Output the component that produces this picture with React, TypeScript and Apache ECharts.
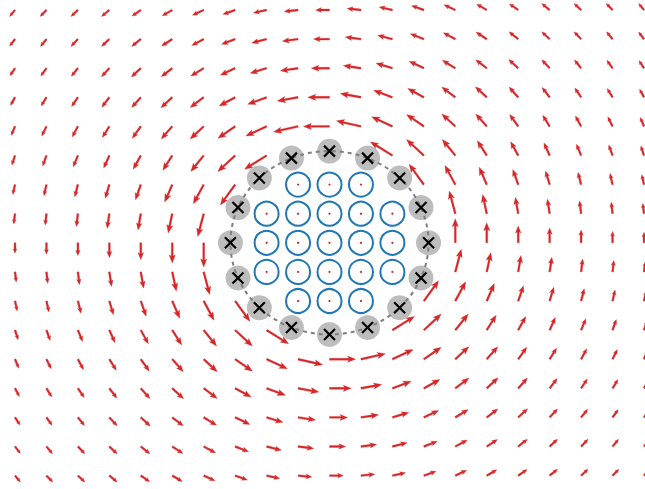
import React, { useEffect, useRef } from "react";
import * as echarts from "echarts";

const _ = null;

// grid of field sample points (data units)
const xs = [-10, -9, -8, -7, -6, -5, -4, -3, -2, -1, 0, 1, 2, 3, 4, 5, 6, 7, 8, 9, 10];
const ys = [8, 7, 6, 5, 4, 3, 2, 1, 0, -1, -2, -3, -4, -5, -6, -7, -8];

// x-components of the field, one row per y (top to bottom), null = not drawn
const U = [
  [-.17, -.2, -.22, -.25, -.28, -.32, -.36, -.39, -.42, -.44, -.44, -.44, -.42, -.39, -.36, -.32, -.28, -.25, -.22, -.2, -.17],
  [-.17, -.19, -.22, -.25, -.29, -.34, -.38, -.43, -.47, -.5, -.51, -.5, -.47, -.43, -.38, -.34, -.29, -.25, -.22, -.19, -.17],
  [-.16, -.18, -.21, -.25, -.3, -.35, -.41, -.47, -.52, -.56, -.58, -.56, -.52, -.47, -.41, -.35, -.3, -.25, -.21, -.18, -.16],
  [-.14, -.17, -.2, -.24, -.29, -.36, -.43, -.51, -.6, -.66, -.69, -.66, -.6, -.51, -.43, -.36, -.29, -.24, -.2, -.17, -.14],
  [-.12, -.15, -.18, -.22, -.27, -.35, -.43, -.55, -.66, -.78, -.83, -.78, -.66, -.55, -.43, -.35, -.27, -.22, -.18, -.15, -.12],
  [-.1, -.12, -.15, -.18, -.24, -.3, -.41, -.55, -.7, _, _, _, -.7, -.55, -.41, -.3, -.24, -.18, -.15, -.12, -.1],
  [-.07, -.08, -.1, -.13, -.17, -.24, -.33, -.47, _, _, _, _, _, -.47, -.33, -.24, -.17, -.13, -.1, -.08, -.07],
  [-.04, -.04, -.05, -.07, -.09, -.13, -.19, _, _, _, _, _, _, _, -.19, -.13, -.09, -.07, -.05, -.04, -.04],
  [0, 0, 0, 0, 0, 0, 0, _, _, _, _, _, _, _, 0, 0, 0, 0, 0, 0, 0],
  [.04, .04, .05, .07, .09, .13, .19, _, _, _, _, _, _, _, .19, .13, .09, .07, .05, .04, .04],
  [.07, .08, .1, .13, .17, .24, .33, .47, _, _, _, _, _, .47, .33, .24, .17, .13, .1, .08, .07],
  [.1, .12, .15, .18, .24, .3, .41, .55, .7, _, _, _, .7, .55, .41, .3, .24, .18, .15, .12, .1],
  [.12, .15, .18, .22, .27, .35, .43, .55, .66, .78, .83, .78, .66, .55, .43, .35, .27, .22, .18, .15, .12],
  [.14, .17, .2, .24, .29, .36, .43, .51, .6, .66, .69, .66, .6, .51, .43, .36, .29, .24, .2, .17, .14],
  [.16, .18, .21, .25, .3, .35, .41, .47, .52, .56, .58, .56, .52, .47, .41, .35, .3, .25, .21, .18, .16],
  [.17, .19, .22, .25, .29, .34, .38, .43, .47, .5, .51, .5, .47, .43, .38, .34, .29, .25, .22, .19, .17],
  [.17, .2, .22, .25, .28, .32, .36, .39, .42, .44, .44, .44, .42, .39, .36, .32, .28, .25, .22, .2, .17],
];

// y-components of the field
const V = [
  [-.22, -.22, -.22, -.22, -.21, -.2, -.18, -.15, -.1, -.05, 0, .05, .1, .15, .18, .2, .21, .22, .22, .22, .22],
  [-.24, -.25, -.25, -.25, -.25, -.24, -.22, -.18, -.13, -.07, 0, .07, .13, .18, .22, .24, .25, .25, .25, .25, .24],
  [-.26, -.27, -.28, -.29, -.3, -.29, -.27, -.24, -.17, -.09, 0, .09, .17, .24, .27, .29, .3, .29, .28, .27, .26],
  [-.28, -.3, -.32, -.34, -.35, -.36, -.35, -.3, -.24, -.13, 0, .13, .24, .3, .35, .36, .35, .34, .32, .3, .28],
  [-.31, -.33, -.36, -.38, -.41, -.43, -.43, -.41, -.33, -.19, 0, .19, .33, .41, .43, .43, .41, .38, .36, .33, .31],
  [-.33, -.36, -.39, -.43, -.47, -.51, -.55, -.55, -.47, _, _, _, .47, .55, .55, .51, .47, .43, .39, .36, .33],
  [-.34, -.38, -.42, -.47, -.52, -.6, -.66, -.7, _, _, _, _, _, .7, .66, .6, .52, .47, .42, .38, .34],
  [-.35, -.39, -.44, -.5, -.56, -.66, -.78, _, _, _, _, _, _, _, .78, .66, .56, .5, .44, .39, .35],
  [-.36, -.39, -.44, -.51, -.58, -.69, -.83, _, _, _, _, _, _, _, .83, .69, .58, .51, .44, .39, .36],
  [-.35, -.39, -.44, -.5, -.56, -.66, -.78, _, _, _, _, _, _, _, .78, .66, .56, .5, .44, .39, .35],
  [-.34, -.38, -.42, -.47, -.52, -.6, -.66, -.7, _, _, _, _, _, .7, .66, .6, .52, .47, .42, .38, .34],
  [-.33, -.36, -.39, -.43, -.47, -.51, -.55, -.55, -.47, _, _, _, .47, .55, .55, .51, .47, .43, .39, .36, .33],
  [-.31, -.33, -.36, -.38, -.41, -.43, -.43, -.41, -.33, -.19, 0, .19, .33, .41, .43, .43, .41, .38, .36, .33, .31],
  [-.28, -.3, -.32, -.34, -.35, -.36, -.35, -.3, -.24, -.13, 0, .13, .24, .3, .35, .36, .35, .34, .32, .3, .28],
  [-.26, -.27, -.28, -.29, -.3, -.29, -.27, -.24, -.17, -.09, 0, .09, .17, .24, .27, .29, .3, .29, .28, .27, .26],
  [-.24, -.25, -.25, -.25, -.25, -.24, -.22, -.18, -.13, -.07, 0, .07, .13, .18, .22, .24, .25, .25, .25, .25, .24],
  [-.22, -.22, -.22, -.22, -.21, -.2, -.18, -.15, -.1, -.05, 0, .05, .1, .15, .18, .2, .21, .22, .22, .22, .22],
];

// wires carrying current out of the page (bundle)
const innerWires = [
  [-1, 2], [0, 2], [1, 2],
  [-2, 1], [-1, 1], [0, 1], [1, 1], [2, 1],
  [-2, 0], [-1, 0], [0, 0], [1, 0], [2, 0],
  [-2, -1], [-1, -1], [0, -1], [1, -1], [2, -1],
  [-1, -2], [0, -2], [1, -2],
];

// wires carrying current into the page (outer ring)
const ringWires = [
  [3.15, 0], [2.91, 1.21], [2.23, 2.23], [1.21, 2.91], [0, 3.15], [-1.21, 2.91], [-2.23, 2.23], [-2.91, 1.21],
  [-3.15, 0], [-2.91, -1.21], [-2.23, -2.23], [-1.21, -2.91], [0, -3.15], [1.21, -2.91], [2.23, -2.23], [2.91, -1.21],
];
const ringRadius = 3.15;

const RED = "#d62728";

export default function App() {
  const ref = useRef<HTMLDivElement>(null);
  useEffect(() => {
    const chart = echarts.init(ref.current!, null, { renderer: "svg" });
    const arrows: number[][] = [];
    ys.forEach((y, j) =>
      xs.forEach((x, i) => {
        const u = U[j][i];
        const v = V[j][i];
        if (u == null || v == null) return;
        arrows.push([x, y, u, v]);
      })
    );

    const arrowItem = (params: any, api: any) => {
      const x = api.value(0), y = api.value(1), u = api.value(2), v = api.value(3);
      const p0 = api.coord([x, y]);
      const p1 = api.coord([x + u, y + v]);
      const dx = p1[0] - p0[0], dy = p1[1] - p0[1];
      const L = Math.hypot(dx, dy);
      if (L < 0.3) return { type: "group", children: [] };
      const hl = Math.min(8, 0.42 * L);
      const hal = hl * 0.85;
      const hw = hl * 0.34 + 0.4;
      const sw = 0.95;
      const ux = dx / L, uy = dy / L;
      const nx = -uy, ny = ux;
      const local = [
        [0, sw], [L - hal, sw], [L - hl, hw], [L, 0], [L - hl, -hw], [L - hal, -sw], [0, -sw],
      ];
      const points = local.map(([a, b]) => [p0[0] + a * ux + b * nx, p0[1] + a * uy + b * ny]);
      return { type: "polygon", shape: { points }, style: { fill: RED, stroke: RED, lineWidth: 0.3 } };
    };

    chart.setOption({
      animation: false,
      grid: { left: 15, top: 10, width: 629, height: 465.6, containLabel: false },
      xAxis: { type: "value", min: -10, max: 10, show: false },
      yAxis: { type: "value", min: -8, max: 8, show: false },
      series: [
        {
          type: "custom",
          z: 1,
          clip: false,
          silent: true,
          data: arrows,
          renderItem: arrowItem,
        },
        {
          type: "custom",
          z: 2,
          clip: false,
          silent: true,
          data: ringWires,
          renderItem: (params: any, api: any) => {
            const c = api.coord([api.value(0), api.value(1)]);
            return { type: "circle", shape: { cx: c[0], cy: c[1], r: 12.5 }, style: { fill: "#bdbdbd" } };
          },
        },
        {
          type: "custom",
          z: 3,
          clip: false,
          silent: true,
          data: [[0, 0]],
          renderItem: (params: any, api: any) => {
            const c = api.coord([0, 0]);
            const ex = api.coord([ringRadius, 0]);
            const ey = api.coord([0, ringRadius]);
            return {
              type: "ellipse",
              shape: { cx: c[0], cy: c[1], rx: Math.abs(ex[0] - c[0]), ry: Math.abs(c[1] - ey[1]) },
              style: { fill: "none", stroke: "#7f7f7f", lineWidth: 2, lineDash: [4, 4] },
            };
          },
        },
        {
          type: "custom",
          z: 4,
          clip: false,
          silent: true,
          data: ringWires,
          renderItem: (params: any, api: any) => {
            const c = api.coord([api.value(0), api.value(1)]);
            const s = 5.5;
            const st = { stroke: "#000", lineWidth: 2.2 };
            return {
              type: "group",
              children: [
                { type: "line", shape: { x1: c[0] - s, y1: c[1] - s, x2: c[0] + s, y2: c[1] + s }, style: st },
                { type: "line", shape: { x1: c[0] - s, y1: c[1] + s, x2: c[0] + s, y2: c[1] - s }, style: st },
              ],
            };
          },
        },
        {
          type: "custom",
          z: 5,
          clip: false,
          silent: true,
          data: innerWires,
          renderItem: (params: any, api: any) => {
            const c = api.coord([api.value(0), api.value(1)]);
            return {
              type: "group",
              children: [
                { type: "circle", shape: { cx: c[0], cy: c[1], r: 12 }, style: { fill: "none", stroke: "#1f77b4", lineWidth: 2 } },
                { type: "circle", shape: { cx: c[0], cy: c[1], r: 1.1 }, style: { fill: RED } },
              ],
            };
          },
        },
      ],
    });
    return () => chart.dispose();
  }, []);
  return <div ref={ref} style={{ position: "absolute", left: 0, top: 0, width: 645, height: 489 }} />;
}
